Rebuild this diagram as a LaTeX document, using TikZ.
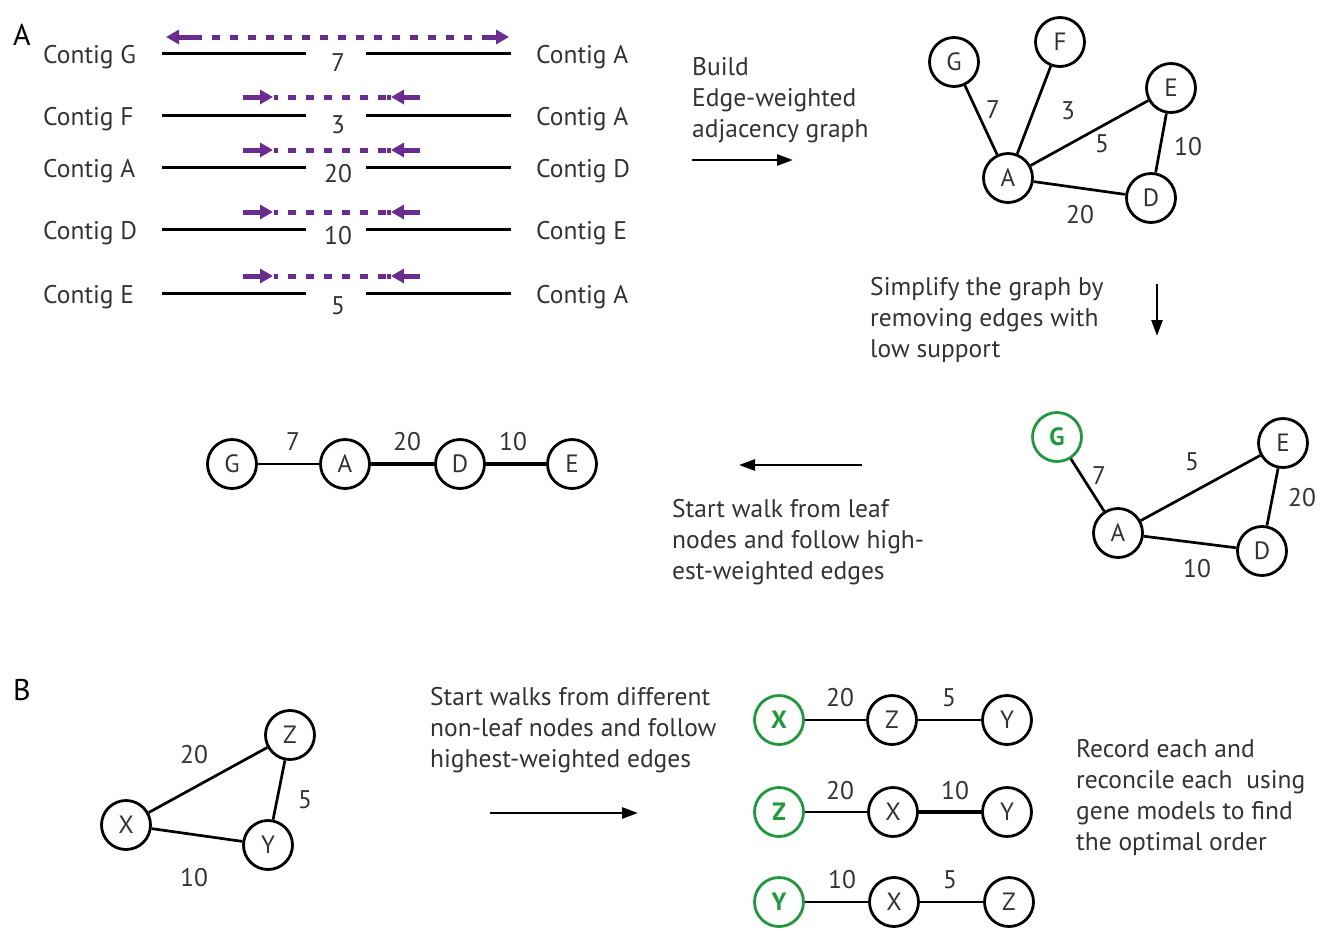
\documentclass[tikz,border=0pt]{standalone}
\usepackage{fontspec}
\setmainfont{PT Sans}
\usetikzlibrary{arrows.meta}
\definecolor{txt}{HTML}{333333}
\definecolor{pur}{HTML}{6B2C91}
\definecolor{grn}{HTML}{1E9A3C}
\begin{document}
\begin{tikzpicture}[x=1pt,y=-1pt,
  every node/.style={text=txt, font=\fontsize{25.5}{31}\selectfont},
  vtx/.style={circle, draw=black, line width=2.8pt, minimum size=49pt, inner sep=0pt, font=\fontsize{25}{28}\selectfont},
  gvtx/.style={vtx, draw=grn, text=grn, font=\fontsize{25}{28}\selectfont\bfseries},
  edge/.style={line width=2.7pt},
  thk/.style={line width=4.8pt},
  lbl/.style={inner sep=0pt},
  ctg/.style={line width=3pt},
  pdash/.style={pur, line width=5pt, dash pattern=on 8pt off 10pt},
  parr/.style={pur, line width=5pt, -{Triangle[length=13pt,width=14pt]}},
  bigarr/.style={line width=2.6pt, -{Triangle[length=16pt,width=11pt]}},
  txtblk/.style={anchor=north west, align=left, inner sep=0pt},
  panel/.style={inner sep=0pt, text=black, font=\fontsize{30}{32}\selectfont}
]
\useasboundingbox (0,0) rectangle (1325,935);
\fill[white] (0,0) rectangle (1325,935);

% panel labels
\node[panel] (pA) at (22,35) {A};
\node[panel] (pB) at (22,690) {B};

% ---- contig rows
\foreach \y/\l/\r/\w/\yl [count=\i] in {53/G/A/7/63, 115/F/A/3/125, 167/A/D/20/174, 229/D/E/10/236, 293/E/A/5/306}{
  \node[anchor=base west, inner sep=0pt] (cl\i) at (43,\y+10) {Contig \l};
  \node[anchor=base west, inner sep=0pt] (cr\i) at (536,\y+10) {Contig \r};
  \draw[ctg] (162,\y) -- (306,\y);
  \draw[ctg] (366,\y) -- (511,\y);
  \node[lbl] (cw\i) at (338,\yl) {\w};
}
% purple arrows
\draw[pdash] (194,37) -- (492,37);
\draw[parr] (194,37) -- (166,37);
\draw[parr] (488,37) -- (509,37);
\foreach \y in {97,150,212,276}{
  \draw[parr] (243,\y) -- (273,\y);
  \draw[pur, line width=5pt] (274,\y) -- (278,\y);
  \draw[pdash] (288,\y) -- (386,\y);
  \draw[pur, line width=5pt] (387,\y) -- (391,\y);
  \draw[parr] (420,\y) -- (391,\y);
}

% ---- text + arrow 1
\node[txtblk] (t1) at (692,57) {Build\\Edge-weighted\\adjacency graph};
\coordinate (a1s) at (692,160);
\coordinate (a1e) at (793,160);
\draw[bigarr] (a1s) -- (a1e);

% ---- graph 1
\node[vtx] (G1) at (954,62) {G};
\node[vtx] (F1) at (1060,42) {F};
\node[vtx] (E1) at (1171,88) {E};
\node[vtx] (A1) at (1008,178) {A};
\node[vtx] (D1) at (1151,198) {D};
\draw[edge] (G1) -- (A1);
\draw[edge] (F1) -- (A1);
\draw[edge] (E1) -- (A1);
\draw[edge] (D1) -- (A1);
\draw[edge] (E1) -- (D1);
\node[lbl] (w1a) at (993,110) {7};
\node[lbl] (w1b) at (1068,111) {3};
\node[lbl] (w1c) at (1102,144) {5};
\node[lbl] (w1d) at (1188,147) {10};
\node[lbl] (w1e) at (1080,215) {20};

% ---- text + arrow 2
\node[txtblk] (t2) at (870,277) {Simplify the graph by\\removing edges with\\low support};
\coordinate (a2s) at (1157,284);
\coordinate (a2e) at (1157,336);
\draw[bigarr] (a2s) -- (a2e);

% ---- graph 2
\node[gvtx] (G2) at (1057,437) {G};
\node[vtx] (E2) at (1283,443) {E};
\node[vtx] (A2) at (1118,533) {A};
\node[vtx] (D2) at (1262,551) {D};
\draw[edge] (G2) -- (A2);
\draw[edge] (E2) -- (A2);
\draw[edge] (D2) -- (A2);
\draw[edge] (E2) -- (D2);
\node[lbl] (w2a) at (1099,476) {7};
\node[lbl] (w2b) at (1192,462) {5};
\node[lbl] (w2c) at (1302,498) {20};
\node[lbl] (w2d) at (1197,569) {10};

% ---- text + arrow 3
\coordinate (a3s) at (862,465);
\coordinate (a3e) at (739,465);
\draw[bigarr] (a3s) -- (a3e);
\node[txtblk] (t3) at (672,499) {Start walk from leaf\\nodes and follow high-\\est-weighted edges};

% ---- path
\node[vtx] (Gp) at (232,464) {G};
\node[vtx] (Ap) at (345,464) {A};
\node[vtx] (Dp) at (460,464) {D};
\node[vtx] (Ep) at (572,464) {E};
\draw[line width=1.6pt] (Gp) -- (Ap);
\draw[thk] (Ap) -- (Dp);
\draw[thk] (Dp) -- (Ep);
\node[lbl] (wpa) at (293,442) {7};
\node[lbl] (wpb) at (407,442) {20};
\node[lbl] (wpc) at (513,442) {10};

% ---- panel B graph
\node[vtx] (Xb) at (126,825) {X};
\node[vtx] (Zb) at (290,735) {Z};
\node[vtx] (Yb) at (268,845) {Y};
\draw[edge] (Xb) -- (Zb);
\draw[edge] (Zb) -- (Yb);
\draw[edge] (Xb) -- (Yb);
\node[lbl] (wba) at (194,755) {20};
\node[lbl] (wbb) at (305,800) {5};
\node[lbl] (wbc) at (194,878) {10};

\node[txtblk] (t4) at (430,687) {Start walks from different\\non-leaf nodes and follow\\highest-weighted edges};
\coordinate (a4s) at (490,813);
\coordinate (a4e) at (638,813);
\draw[bigarr] (a4s) -- (a4e);

% ---- walks
\node[gvtx] (X1) at (779,720) {X};
\node[vtx] (Z1) at (892,720) {Z};
\node[vtx] (Y1) at (1007,720) {Y};
\draw[edge] (X1) -- (Z1);
\draw[edge] (Z1) -- (Y1);
\node[lbl] (r1a) at (840,698) {20};
\node[lbl] (r1b) at (949,698) {5};

\node[gvtx] (Z2) at (779,812) {Z};
\node[vtx] (X2) at (893,812) {X};
\node[vtx] (Y2) at (1007,812) {Y};
\draw[edge] (Z2) -- (X2);
\draw[thk] (X2) -- (Y2);
\node[lbl] (r2a) at (840,791) {20};
\node[lbl] (r2b) at (955,791) {10};

\node[gvtx] (Y3) at (779,902) {Y};
\node[vtx] (X3) at (894,902) {X};
\node[vtx] (Z3) at (1009,902) {Z};
\draw[edge] (Y3) -- (X3);
\draw[edge] (X3) -- (Z3);
\node[lbl] (r3a) at (842,880) {10};
\node[lbl] (r3b) at (950,880) {5};

\node[txtblk] (t5) at (1076,739) {Record each and\\reconcile each\ \ using\\gene models to find\\the optimal order};
\end{tikzpicture}
\end{document}
